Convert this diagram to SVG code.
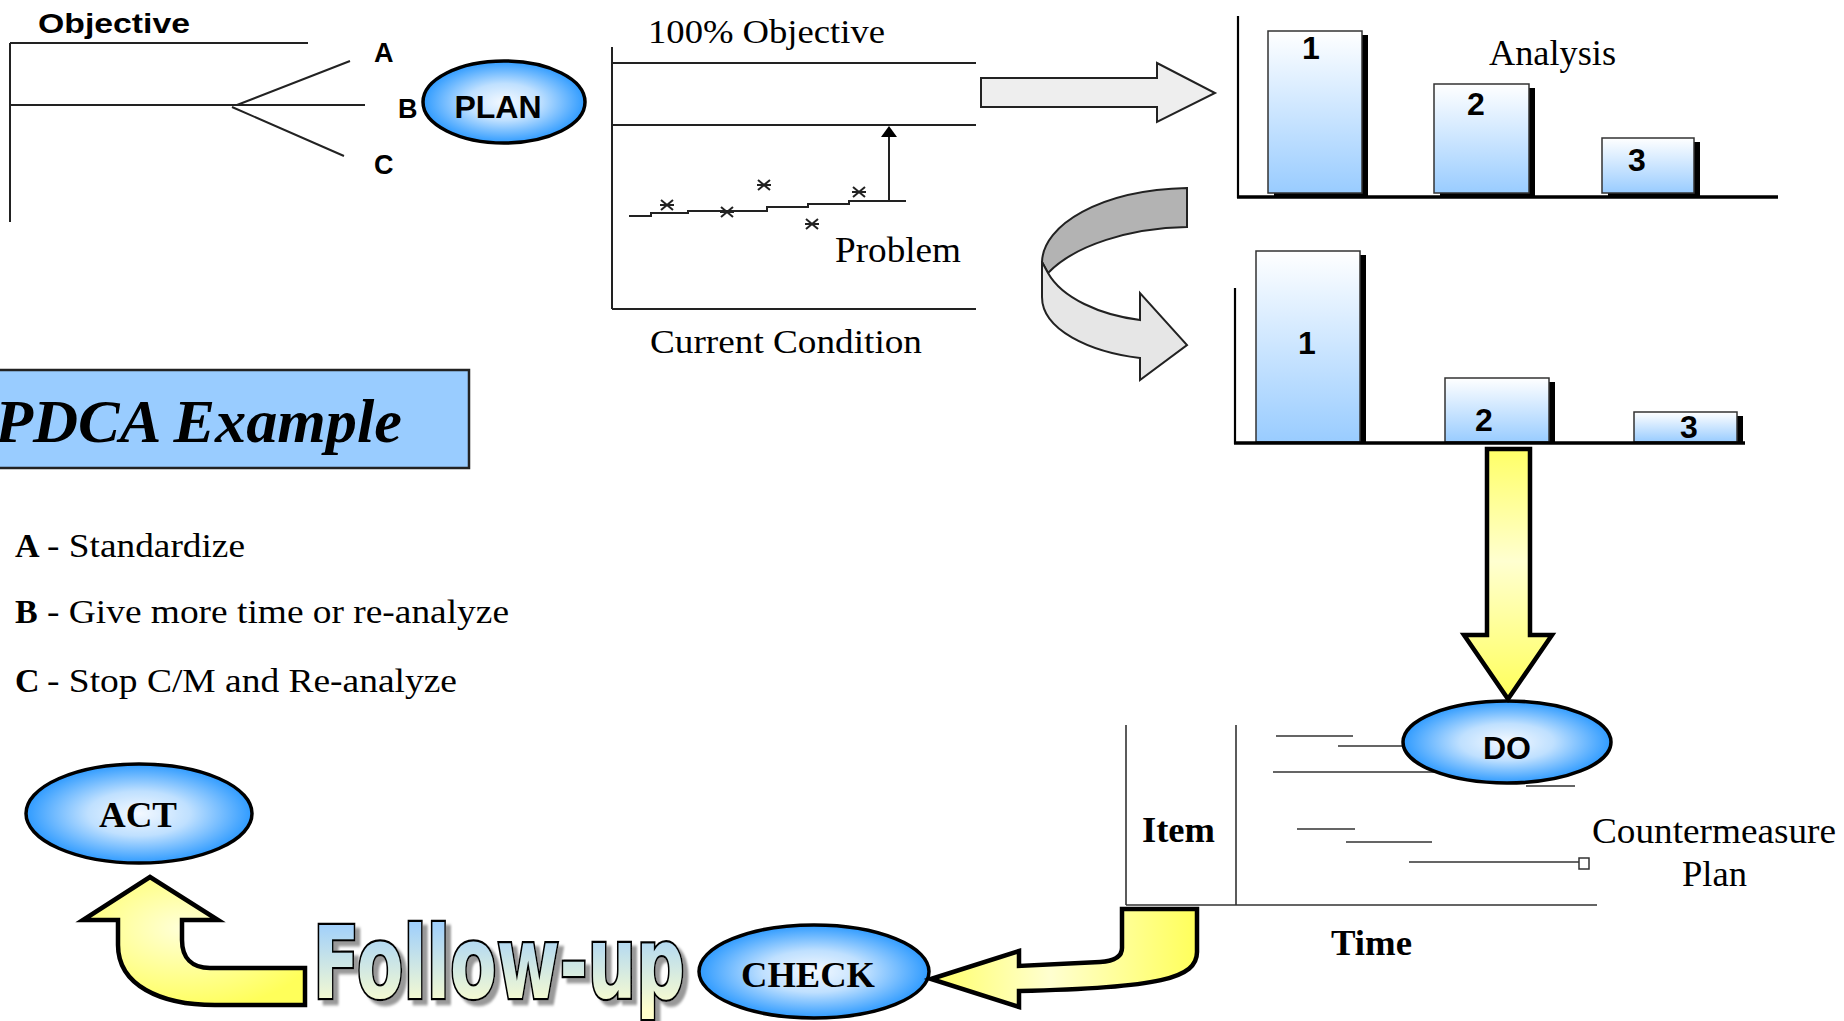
<svg xmlns="http://www.w3.org/2000/svg" width="1844" height="1021" viewBox="0 0 1844 1021">
  <defs>
    <radialGradient id="nodeFill" cx="50%" cy="50%" r="50%">
      <stop offset="0" stop-color="#f4f9ff"/>
      <stop offset="0.45" stop-color="#bfe0ff"/>
      <stop offset="1" stop-color="#2f9bff"/>
    </radialGradient>
    <linearGradient id="barFill" x1="0" y1="0" x2="0" y2="1">
      <stop offset="0" stop-color="#ffffff"/>
      <stop offset="1" stop-color="#99ccff"/>
    </linearGradient>
    <linearGradient id="yellowV" x1="0" y1="0" x2="0" y2="1">
      <stop offset="0" stop-color="#ffff66"/>
      <stop offset="0.45" stop-color="#ffffd0"/>
      <stop offset="1" stop-color="#ffff5a"/>
    </linearGradient>
    <linearGradient id="yellowH" x1="0" y1="0" x2="1" y2="0">
      <stop offset="0" stop-color="#ffff66"/>
      <stop offset="0.45" stop-color="#ffffd0"/>
      <stop offset="1" stop-color="#ffff5a"/>
    </linearGradient>
    <radialGradient id="yellowR" cx="45%" cy="40%" r="65%">
      <stop offset="0" stop-color="#ffffd8"/>
      <stop offset="1" stop-color="#ffff5a"/>
    </radialGradient>
    <linearGradient id="followFill" x1="0" y1="0" x2="0" y2="1">
      <stop offset="0.1" stop-color="#99ccff"/>
      <stop offset="0.9" stop-color="#ffffcc"/>
    </linearGradient>
    <!-- grey drop shadow behind the outlined label -->
    <filter id="dropShadow" x="-5%" y="-10%" width="115%" height="130%">
      <feGaussianBlur in="SourceAlpha" stdDeviation="1.5" result="blur"/>
      <feOffset in="blur" dx="7" dy="5" result="off"/>
      <feFlood flood-color="#999999"/>
      <feComposite in2="off" operator="in" result="shadow"/>
      <feMerge>
        <feMergeNode in="shadow"/>
        <feMergeNode in="SourceGraphic"/>
      </feMerge>
    </filter>
  </defs>
  <style>
    .ln { stroke: #222; stroke-width: 2; fill: none; }
    .thin { stroke: #333; stroke-width: 1.6; fill: none; }
    .serif { font-family: "Liberation Serif", "Times New Roman", serif; fill: #000; }
    .sans { font-family: "Liberation Sans", Arial, sans-serif; font-weight: bold; fill: #000; }
    .node { fill: url(#nodeFill); stroke: #000; stroke-width: 3.5; }
    .bar { fill: url(#barFill); stroke: #333; stroke-width: 1.5; }
    .shadow { fill: #000; }
    .yarrow { stroke: #000; stroke-width: 4.5; stroke-linejoin: miter; }
    .garrow { stroke: #222; stroke-width: 2; stroke-linejoin: miter; }
  </style>

  <rect width="1844" height="1021" fill="#ffffff"/>

  <!-- Objective branch chart -->
  <g id="objective-chart">
    <text class="sans" x="38" y="33" font-size="28" textLength="152" lengthAdjust="spacingAndGlyphs">Objective</text>
    <path class="ln" d="M10,43 H308 M10,43 V222 M10,105 H365 M237,105 L350,61 M232,107 L344,156"/>
    <text class="sans" x="374" y="62" font-size="27">A</text>
    <text class="sans" x="398" y="118" font-size="27">B</text>
    <text class="sans" x="374" y="174" font-size="27">C</text>
  </g>

  <!-- PLAN -->
  <g id="plan">
    <ellipse class="node" cx="504" cy="102" rx="81" ry="41"/>
    <text class="sans" x="498" y="118" font-size="32" text-anchor="middle">PLAN</text>
  </g>

  <!-- Current condition chart -->
  <g id="condition-chart">
    <text class="serif" x="648" y="43" font-size="33" textLength="237" lengthAdjust="spacingAndGlyphs">100% Objective</text>
    <path class="ln" d="M612,47 V309 M612,63 H976 M612,125 H976 M612,309 H976"/>
    <path class="ln" d="M629,216 H651 V213 H688 V211 H767 V207 H808 V204 H849 V201 H906 M889,201 V134"/>
    <polygon points="889,126 897,137 881,137" fill="#000"/>
    <g class="ln" stroke-width="2.6">
      <path d="M661,200 L673,210 M661,210 L673,200 M660,205 H674"/>
      <path d="M721,207 L733,217 M721,217 L733,207 M720,212 H734"/>
      <path d="M758,180 L770,190 M758,190 L770,180 M757,185 H771"/>
      <path d="M806,219 L818,229 M806,229 L818,219 M805,224 H819"/>
      <path d="M853,187 L865,197 M853,197 L865,187 M852,192 H866"/>
    </g>
    <text class="serif" x="835" y="262" font-size="35" textLength="126" lengthAdjust="spacingAndGlyphs">Problem</text>
    <text class="serif" x="650" y="353" font-size="34" textLength="272" lengthAdjust="spacingAndGlyphs">Current Condition</text>
  </g>

  <!-- Analysis chart -->
  <g id="analysis-chart">
    <rect class="shadow" x="1274" y="35" width="94" height="162"/>
    <rect class="bar" x="1268" y="31" width="94" height="162"/>
    <rect class="shadow" x="1440" y="88" width="95" height="109"/>
    <rect class="bar" x="1434" y="84" width="95" height="109"/>
    <rect class="shadow" x="1608" y="142" width="92" height="55"/>
    <rect class="bar" x="1602" y="138" width="92" height="55"/>
    <path d="M1238,16 V198" stroke="#000" stroke-width="2.2"/>
    <path d="M1237,197 H1778" stroke="#000" stroke-width="3.5"/>
    <text class="sans" x="1311" y="59" font-size="32" text-anchor="middle">1</text>
    <text class="sans" x="1476" y="115" font-size="32" text-anchor="middle">2</text>
    <text class="sans" x="1637" y="171" font-size="32" text-anchor="middle">3</text>
    <text class="serif" x="1489" y="65" font-size="36" textLength="127" lengthAdjust="spacingAndGlyphs">Analysis</text>
  </g>

  <!-- Re-ordered chart -->
  <g id="priority-chart">
    <rect class="shadow" x="1262" y="255" width="104" height="188"/>
    <rect class="bar" x="1256" y="251" width="104" height="191"/>
    <rect class="shadow" x="1451" y="382" width="104" height="61"/>
    <rect class="bar" x="1445" y="378" width="104" height="64"/>
    <rect class="shadow" x="1640" y="416" width="103" height="27"/>
    <rect class="bar" x="1634" y="412" width="103" height="30"/>
    <path d="M1235,288 V444" stroke="#000" stroke-width="2.2"/>
    <path d="M1234,443 H1745" stroke="#000" stroke-width="3.5"/>
    <text class="sans" x="1307" y="354" font-size="32" text-anchor="middle">1</text>
    <text class="sans" x="1484" y="431" font-size="32" text-anchor="middle">2</text>
    <text class="sans" x="1689" y="438" font-size="32" text-anchor="middle">3</text>
  </g>

  <!-- Title -->
  <g id="title">
    <rect x="-3" y="370" width="472" height="98" fill="#99ccff" stroke="#222" stroke-width="2.5"/>
    <text class="serif" x="-5" y="442" font-size="62" font-weight="bold" font-style="italic" textLength="407" lengthAdjust="spacingAndGlyphs">PDCA Example</text>
  </g>

  <!-- Legend -->
  <g id="legend">
    <text class="serif" x="15" y="557" font-size="34" font-weight="bold">A</text>
    <text class="serif" x="47" y="557" font-size="34" textLength="198" lengthAdjust="spacingAndGlyphs">- Standardize</text>
    <text class="serif" x="15" y="623" font-size="34" font-weight="bold">B</text>
    <text class="serif" x="47" y="623" font-size="34" textLength="462" lengthAdjust="spacingAndGlyphs">- Give more time or re-analyze</text>
    <text class="serif" x="15" y="692" font-size="34" font-weight="bold">C</text>
    <text class="serif" x="47" y="692" font-size="34" textLength="410" lengthAdjust="spacingAndGlyphs">- Stop C/M and Re-analyze</text>
  </g>

  <!-- Countermeasure plan chart -->
  <g id="countermeasure-chart">
    <path class="thin" d="M1126,725 V905 M1236,725 V905 M1126,905 H1597"/>
    <path class="thin" d="M1276,736 H1353 M1338,746 H1403 M1273,772 H1436 M1526,786 H1575 M1297,829 H1355 M1346,842 H1432 M1409,862 H1579"/>
    <rect x="1579" y="858" width="10" height="11" fill="#fff" stroke="#333" stroke-width="1.5"/>
    <text class="serif" x="1142" y="842" font-size="36" font-weight="bold" textLength="73" lengthAdjust="spacingAndGlyphs">Item</text>
    <text class="serif" x="1331" y="955" font-size="36" font-weight="bold" textLength="81" lengthAdjust="spacingAndGlyphs">Time</text>
    <text class="serif" x="1592" y="843" font-size="36" textLength="244" lengthAdjust="spacingAndGlyphs">Countermeasure</text>
    <text class="serif" x="1682" y="886" font-size="36" textLength="65" lengthAdjust="spacingAndGlyphs">Plan</text>
  </g>

  <!-- DO -->
  <g id="do">
    <ellipse class="node" cx="1507" cy="742" rx="104" ry="41"/>
    <text class="sans" x="1507" y="759" font-size="32" text-anchor="middle">DO</text>
  </g>

  <!-- CHECK -->
  <g id="check">
    <ellipse class="node" cx="814" cy="971.5" rx="115" ry="46.5"/>
    <text class="serif" x="808" y="987" font-size="36" font-weight="bold" text-anchor="middle" textLength="134" lengthAdjust="spacingAndGlyphs">CHECK</text>
  </g>

  <!-- ACT -->
  <g id="act">
    <ellipse class="node" cx="139" cy="813.5" rx="113" ry="49.5"/>
    <text class="serif" x="138" y="827" font-size="36" font-weight="bold" text-anchor="middle" textLength="78" lengthAdjust="spacingAndGlyphs">ACT</text>
  </g>

  <!-- Follow-up label: wide bold face squeezed to a condensed look -->
  <g id="follow-up">
    <text transform="translate(313,998) scale(0.675,1)" x="0" y="0" font-family="'DejaVu Sans', 'Liberation Sans', sans-serif" font-weight="bold" font-size="100" textLength="551" lengthAdjust="spacingAndGlyphs" fill="url(#followFill)" stroke="#000" stroke-width="4.6" paint-order="stroke" filter="url(#dropShadow)">Follow-up</text>
  </g>

  <!-- Connectors -->
  <g id="connectors">
    <!-- condition to analysis -->
    <path class="garrow" fill="#eeeeee" d="M981,78 L1157,78 L1157,63 L1215,93 L1157,122 L1157,107 L981,107 Z"/>
    <!-- analysis to priority (curled ribbon) -->
    <path class="garrow" fill="#b3b3b3" d="M1187,188 C1100,190 1043,225 1042,262 L1048,273 C1075,245 1130,228 1187,227 Z"/>
    <path class="garrow" fill="#e6e6e6" d="M1042,262 L1042,297 C1042,330 1090,352 1140,358 L1140,380 L1187,345 L1140,293 L1140,320 C1100,315 1062,298 1048,273 Z"/>
    <!-- priority to DO -->
    <path class="yarrow" fill="url(#yellowV)" d="M1487,449 L1530,449 L1530,635 L1552,635 L1508,699 L1464,635 L1487,635 Z"/>
    <!-- plan chart to CHECK -->
    <path class="yarrow" fill="url(#yellowH)" d="M931,979 L1019,951 L1019,966 L1100,962 C1116,961 1122,956 1122,948 L1122,909 L1197,909 L1197,952 C1197,978 1160,988 1019,991 L1019,1007 Z"/>
    <!-- follow-up to ACT -->
    <path class="yarrow" fill="url(#yellowR)" d="M150,877 L218,920 L182,920 L182,940 C182,958 192,968 210,968 L305,968 L305,1005 L215,1005 C160,1005 118,985 118,945 L118,920 L83,920 Z"/>
  </g>
</svg>
